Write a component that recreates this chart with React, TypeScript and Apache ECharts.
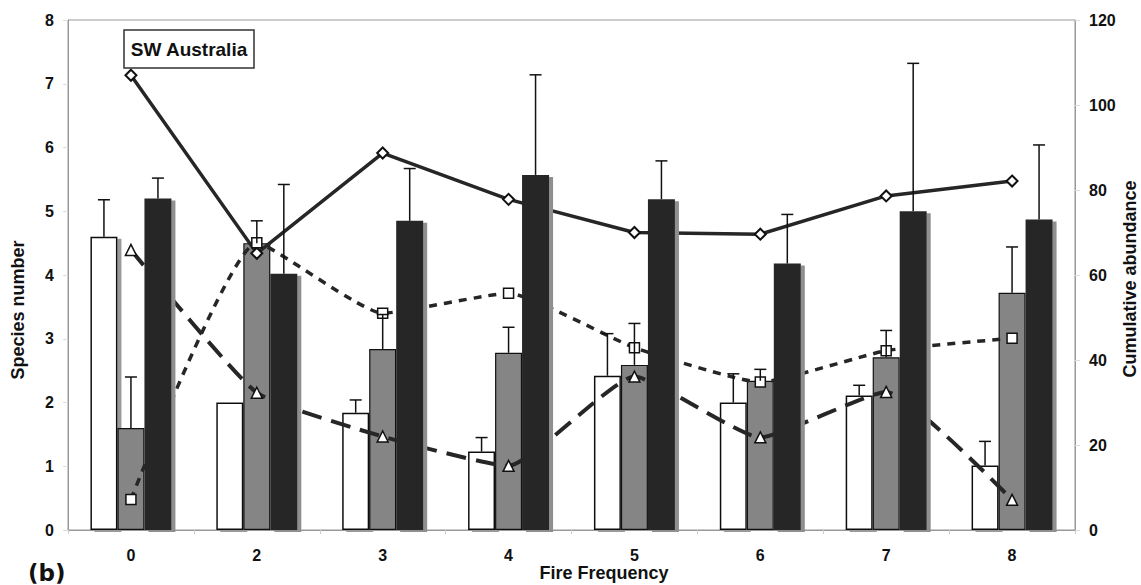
import React, { useEffect, useRef } from "react";
import * as echarts from "echarts";

const categories = ["0", "2", "3", "4", "5", "6", "7", "8"];

// Species number (left axis) bars and their error-bar tops
const whiteBars = [4.6, 2.0, 1.84, 1.23, 2.42, 2.0, 2.11, 1.01];
const whiteErrTop = [5.18, null, 2.04, 1.45, 3.08, 2.45, 2.27, 1.39];
const grayBars = [1.6, 4.5, 2.84, 2.78, 2.59, 2.34, 2.71, 3.72];
const grayErrTop = [2.4, 4.85, 3.38, 3.18, 3.24, 2.52, 3.13, 4.44];
const blackBars = [5.2, 4.02, 4.85, 5.57, 5.19, 4.18, 5.0, 4.87];
const blackErrTop = [5.52, 5.42, 5.67, 7.14, 5.79, 4.95, 7.32, 6.04];

// Cumulative abundance (right axis) lines
const diamondLine = [107, 65.1, 88.7, 77.8, 70, 69.6, 78.6, 82.1];
const squareLine = [7.2, 67.6, 51.0, 55.7, 42.9, 34.8, 42.2, 45.1];
const triangleLine = [65.9, 32.3, 22, 15.1, 36.1, 21.8, 32.5, 7.1];

const leftTicks = { min: 0, max: 8, interval: 1 };
const rightTicks = { min: 0, max: 120, interval: 20 };

const FONT = "'Liberation Sans', Arial, Helvetica, sans-serif";
const BAR_W = 27;

function errData(vals: number[], tops: (number | null)[]) {
  const out: any[] = [];
  vals.forEach((v, i) => {
    const t = tops[i];
    if (t != null) out.push([i, v, t]);
  });
  return out;
}

function errSeries(vals: number[], tops: (number | null)[], offset: number, z: number) {
  return {
    type: "custom",
    yAxisIndex: 0,
    z,
    silent: true,
    data: errData(vals, tops),
    renderItem: (params: any, api: any) => {
      const base = api.coord([api.value(0), api.value(1)]);
      const top = api.coord([api.value(0), api.value(2)]);
      const x = base[0] + offset;
      const style = { stroke: "#111", lineWidth: 1.5 };
      return {
        type: "group",
        children: [
          { type: "line", shape: { x1: x, y1: base[1], x2: x, y2: top[1] }, style },
          { type: "line", shape: { x1: x - 6, y1: top[1], x2: x + 6, y2: top[1] }, style },
        ],
      };
    },
  };
}

export default function App() {
  const ref = useRef<HTMLDivElement>(null);
  useEffect(() => {
    if (!ref.current) return;
    const chart = echarts.init(ref.current, undefined, { renderer: "svg" });
    const labelStyle = { fontFamily: FONT, fontWeight: "bold" as const, fontSize: 16, color: "#111" };
    chart.setOption({
      animation: false,
      backgroundColor: "#fff",
      grid: {
        left: 68,
        right: 66,
        top: 20,
        bottom: 55,
        show: true,
        borderColor: "#999",
        borderWidth: 1,
        containLabel: false,
      },
      xAxis: {
        type: "category",
        data: categories,
        boundaryGap: true,
        axisLine: { lineStyle: { color: "#999", width: 1 } },
        axisTick: { show: true, length: 4, lineStyle: { color: "#ccc" } },
        axisLabel: { ...labelStyle, margin: 17 },
      },
      yAxis: [
        {
          type: "value",
          ...leftTicks,
          axisLine: { show: true, lineStyle: { color: "#999" } },
          axisTick: { show: true, length: 5, lineStyle: { color: "#ddd" } },
          splitLine: { show: false },
          axisLabel: { ...labelStyle, margin: 14 },
        },
        {
          type: "value",
          ...rightTicks,
          position: "right",
          axisLine: { show: true, lineStyle: { color: "#999" } },
          axisTick: { show: true, length: 5, lineStyle: { color: "#ddd" } },
          splitLine: { show: false },
          axisLabel: { ...labelStyle, margin: 14 },
        },
      ],
      series: [
        {
          type: "bar",
          name: "white",
          data: whiteBars,
          barWidth: BAR_W,
          barGap: "0%",
          z: 2,
          itemStyle: {
            color: "#fff",
            borderColor: "#111",
            borderWidth: 1.5,
            shadowColor: "#9a9a9a",
            shadowOffsetX: 4,
            shadowOffsetY: 2,
            shadowBlur: 0,
          },
        },
        {
          type: "bar",
          name: "gray",
          data: grayBars,
          barWidth: BAR_W,
          barGap: "0%",
          z: 2,
          itemStyle: { color: "#858585", borderColor: "#111", borderWidth: 1.2 },
        },
        {
          type: "bar",
          name: "black",
          data: blackBars,
          barWidth: BAR_W,
          barGap: "0%",
          z: 6,
          itemStyle: {
            color: "#262626",
            shadowColor: "#8f8f8f",
            shadowOffsetX: 4,
            shadowOffsetY: 2,
            shadowBlur: 0,
          },
        },
        {
          type: "line",
          name: "diamond",
          yAxisIndex: 1,
          data: diamondLine,
          z: 4,
          symbol: "diamond",
          symbolSize: 11,
          showAllSymbol: true,
          lineStyle: { color: "#262626", width: 3.5 },
          itemStyle: { color: "#fff", borderColor: "#111", borderWidth: 2 },
        },
        {
          type: "line",
          name: "square",
          yAxisIndex: 1,
          data: squareLine,
          z: 4,
          smooth: 0.15,
          symbol: "rect",
          symbolSize: 10,
          showAllSymbol: true,
          lineStyle: { color: "#262626", width: 3.5, type: [8, 7] },
          itemStyle: { color: "#fff", borderColor: "#111", borderWidth: 1.5 },
        },
        {
          type: "line",
          name: "triangle",
          yAxisIndex: 1,
          data: triangleLine,
          z: 4,
          smooth: 0.15,
          symbol: "triangle",
          symbolSize: 11,
          showAllSymbol: true,
          lineStyle: { color: "#262626", width: 4, type: [20, 10] },
          itemStyle: { color: "#fff", borderColor: "#111", borderWidth: 1.5 },
        },
        errSeries(whiteBars, whiteErrTop, -BAR_W, 7),
        errSeries(grayBars, grayErrTop, 0, 7),
        errSeries(blackBars, blackErrTop, BAR_W, 7),
      ],
      graphic: [
        {
          type: "rect",
          z: 100,
          shape: { x: 124, y: 30, width: 130, height: 38 },
          style: { fill: "#fff", stroke: "#333", lineWidth: 1.5 },
        },
        {
          type: "text",
          z: 101,
          x: 189,
          y: 49,
          style: {
            text: "SW Australia",
            fontFamily: FONT,
            fontWeight: "bold",
            fontSize: 19,
            fill: "#111",
            align: "center",
            verticalAlign: "middle",
          },
        },
        {
          type: "text",
          x: 18,
          y: 310,
          rotation: Math.PI / 2,
          style: {
            text: "Species number",
            fontFamily: FONT,
            fontWeight: "bold",
            fontSize: 18,
            fill: "#111",
            align: "center",
            verticalAlign: "middle",
          },
        },
        {
          type: "text",
          x: 1130,
          y: 279,
          rotation: Math.PI / 2,
          style: {
            text: "Cumulative abundance",
            fontFamily: FONT,
            fontWeight: "bold",
            fontSize: 18,
            fill: "#111",
            align: "center",
            verticalAlign: "middle",
          },
        },
        {
          type: "text",
          x: 604,
          y: 573,
          style: {
            text: "Fire Frequency",
            fontFamily: FONT,
            fontWeight: "bold",
            fontSize: 18,
            fill: "#111",
            align: "center",
            verticalAlign: "middle",
          },
        },
        {
          type: "text",
          x: 28,
          y: 573,
          style: {
            text: "(b)",
            fontFamily: "'DejaVu Sans', sans-serif",
            fontWeight: "bold",
            fontSize: 23,
            fill: "#111",
            align: "left",
            verticalAlign: "middle",
          },
        },
      ],
    });
    return () => chart.dispose();
  }, []);
  return (
    <div
      ref={ref}
      style={{ position: "fixed", left: 0, top: 0, width: 1141, height: 585 }}
    />
  );
}
